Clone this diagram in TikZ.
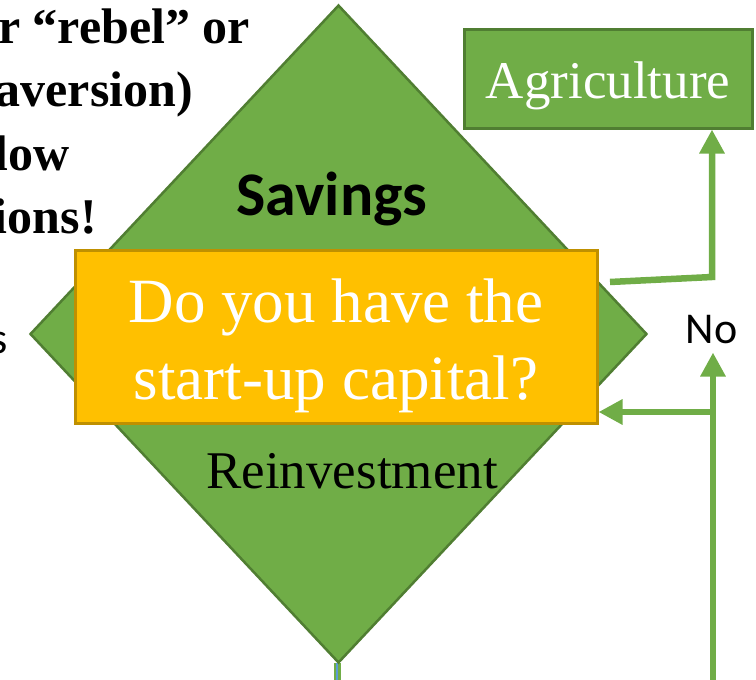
\documentclass[tikz,border=0pt]{standalone}
\usepackage{fontspec}
\setmainfont{Liberation Serif}
\newfontfamily\calfont{Carlito}
\usetikzlibrary{shapes.geometric,arrows.meta}
\definecolor{leaf}{HTML}{70AD47}
\definecolor{leafdark}{HTML}{507E32}
\definecolor{gold}{HTML}{FFC000}
\definecolor{golddark}{HTML}{BF9000}
\definecolor{wire}{HTML}{5B9BD5}
\begin{document}
\begin{tikzpicture}[x=1pt, y=-1pt, box/.style = {draw=leafdark, line width=3pt, fill=leaf, inner sep=0pt, text=white},
				word/.style={inner sep=0pt, text=black},
				link/.style={draw=leaf, line width=6.5pt, -{Triangle[length=24pt,width=24pt]}}]
				
				\useasboundingbox (0,0) rectangle (756,680);
				\clip (0,0) rectangle (756,680);
				
				\node[word, anchor=base east, font=\bfseries\fontsize{50}{60}\selectfont] (t1) at (250,43) {r “rebel” or};
				\node[word, anchor=base east, font=\bfseries\fontsize{50}{60}\selectfont] (t2) at (193,106) {aversion)};
				\node[word, anchor=base east, font=\bfseries\fontsize{50}{60}\selectfont] (t3) at (70,170) {low};
				\node[word, anchor=base east, font=\bfseries\fontsize{50}{60}\selectfont] (t4) at (97,233) {ions!};
				\node[word, anchor=base east, font=\calfont\fontsize{44}{52}\selectfont] (s) at (8,353) {s};
				
				\coordinate (dbot) at (337,680);
				\draw[leaf, line width=7pt] (337,663) -- (dbot);
				\draw[wire, line width=1.5pt] (337,663) -- (dbot);
				
				\node[diamond, draw=leafdark, line width=2.5pt, fill=leaf, inner sep=0pt, minimum width=617pt, minimum height=658pt] (d) at (338.5,334) {};
				\node[word, anchor=base, font=\calfont\bfseries\fontsize{62}{70}\selectfont] (sav) at (332,215) {Savings};
				\node[word, anchor=base, font=\fontsize{53}{60}\selectfont] (re) at (352,488) {Reinvestment};
				
				\node[box, draw=golddark, fill=gold, minimum width=522pt, minimum height=173pt, align=center, text height=130pt, text depth=5pt,
					font=\fontsize{63}{77}\selectfont] (q) at (336,336.5) {Do you have the\\start-up capital?};
				\node[box, minimum width=288pt, minimum height=99pt, text height=50pt, text depth=11pt,
					font=\fontsize{53}{60}\selectfont] (agri) at (608,78.5) {Agriculture};
				\node[word, anchor=base, font=\calfont\fontsize{44}{52}\selectfont, inner ysep=9pt] (no) at (711.5,343) {No};
				
				\coordinate (out) at (610,282);
				\coordinate (turn) at (712,277);
				\coordinate (up) at (713,680);
				\coordinate (back) at (710,412);
				
				\draw[link] (out) -- (turn) -- (agri.south -| turn);
				\draw[link] (up) -- (up |- no.south);
				\draw[link] (back) -- (back -| q.east);
			\end{tikzpicture}
\end{document}
